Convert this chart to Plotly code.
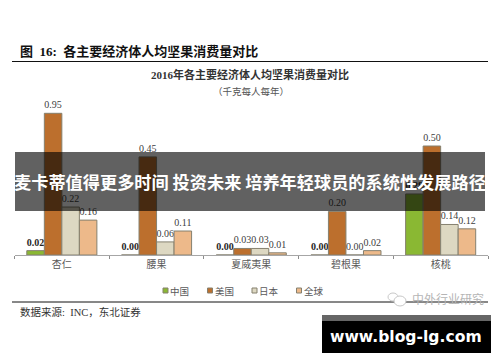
import plotly.graph_objects as go

W, H = 500, 362
categories = ["杏仁", "腰果", "夏威夷果", "碧根果", "核桃"]
china = [0.02, 0.00, 0.00, 0.00, 0.28]
# Bar heights as drawn in the picture: the 杏仁 US bar is drawn shorter than its printed 0.95 label
usa = [0.65, 0.45, 0.03, 0.20, 0.50]
usa_labels = ["0.95", "0.45", "0.03", "0.20", "0.50"]
japan = [0.22, 0.06, 0.03, 0.00, 0.14]
world = [0.16, 0.11, 0.01, 0.02, 0.12]
series_names = ["中国", "美国", "日本", "全球"]
series_colors = ["#8ab833", "#bc6f2d", "#ddd8c2", "#edb98a"]

SERIF = "Liberation Serif, Noto Sans CJK SC, serif"
SANS = "Noto Sans CJK SC"
L, R, T, B = 14.5, 488, 100, 255

def px(x): return x / W
def py(y): return 1 - y / H

fig = go.Figure()
def add(name, vals, color, labels=None, bold=False):
    text = labels or [f"{v:.2f}" for v in vals]
    fig.add_bar(
        name=name, x=categories, y=vals, text=text, textposition="outside",
        cliponaxis=False, constraintext="none",
        textfont=dict(family=SERIF, size=10, color="#262626" if bold else "#404040",
                      weight="bold" if bold else "normal"),
        marker=dict(color=color, line=dict(color="#85806f", width=1)),
    )
add(series_names[0], china, series_colors[0], bold=True)
add(series_names[1], usa, series_colors[1], labels=usa_labels)
add(series_names[2], japan, series_colors[2])
add(series_names[3], world, series_colors[3])

def note(x, y, text, size, color="#1a1a1a", anchor="left", family=SERIF, bold=False):
    fig.add_annotation(
        xref="paper", yref="paper", x=px(x), y=py(y), text=f"<b>{text}</b>" if bold else text,
        showarrow=False, xanchor=anchor, yanchor="middle",
        font=dict(size=size, color=color, family=family), borderpad=0, borderwidth=0,
    )

note(20, 51.5, "图  16:  各主要经济体人均坚果消费量对比", 13, "#111111", bold=True)
note(250, 75, "2016年各主要经济体人均坚果消费量对比", 11, "#333333", anchor="center", bold=True)
note(251, 91, "（千克每人每年）", 9.5, "#555555", anchor="center")
note(20, 311.5, "数据来源:  INC，东北证券", 10.5, "#333333")
note(412, 298, "中外行业研究", 12, "#b5b5b5", family=SANS)
note(250, 181, "麦卡蒂值得更多时间 投资未来 培养年轻球员的系统性发展路径", 17.2, "#ffffff",
     anchor="center", family=SANS, bold=True)
note(406, 337, "www.blog-lg.com", 15.6, "#ffffff", anchor="center", family="DejaVu Sans", bold=True)

def rect(x0, y0, x1, y1, color, line=None):
    fig.add_shape(type="rect", xref="paper", yref="paper", x0=px(x0), x1=px(x1), y0=py(y0), y1=py(y1),
                  fillcolor=color, line=dict(width=1 if line else 0, color=line or color), layer="above")
def rule(y):
    fig.add_shape(type="line", xref="paper", yref="paper", x0=px(12), x1=px(488), y0=py(y), y1=py(y),
                  line=dict(color="#111111", width=1), layer="above")

# legend
for name, color, sx in zip(series_names, series_colors, [163, 207.5, 252, 296.5]):
    rect(sx, 288, sx + 5, 293, color, line="#85806f")
    note(sx + 7, 290.5, name, 9.5, "#595959", family=SANS)

rule(61.5)
rule(302)
rect(15, 152, 485, 211, "rgba(0,0,0,0.62)")
rect(322, 315, 491, 321, "#666666")
rect(322, 321, 491, 353, "#000000")
# watermark icon
fig.add_shape(type="circle", xref="paper", yref="paper", x0=px(388), x1=px(398), y0=py(301), y1=py(293),
              line=dict(color="#c8c8c8", width=1), layer="above")
fig.add_shape(type="circle", xref="paper", yref="paper", x0=px(394), x1=px(406), y0=py(306), y1=py(296),
              line=dict(color="#c8c8c8", width=1), fillcolor="#ffffff", layer="above")

fig.update_layout(
    width=W, height=H, autosize=False, barmode="group", bargap=0.26, bargroupgap=0,
    margin=dict(l=0, r=0, t=0, b=0, pad=0),
    paper_bgcolor="white", plot_bgcolor="white",
    font=dict(family=SERIF, size=10),
    showlegend=False,
    xaxis=dict(type="category", domain=[px(L), px(R)], tickson="boundaries", ticks="outside", ticklen=3,
               tickcolor="#8c8c8c", showline=True, linecolor="#a6a6a6", linewidth=1, showgrid=False,
               zeroline=False, automargin=False,
               tickfont=dict(size=10, color="#595959", family=SANS)),
    yaxis=dict(visible=False, domain=[py(B), py(T)], range=[0, 155 / 218], fixedrange=True),
)
fig.write_html("out.html", config=dict(displayModeBar=False),
               post_script="document.body.style.margin='0';document.documentElement.style.overflow='hidden';")
